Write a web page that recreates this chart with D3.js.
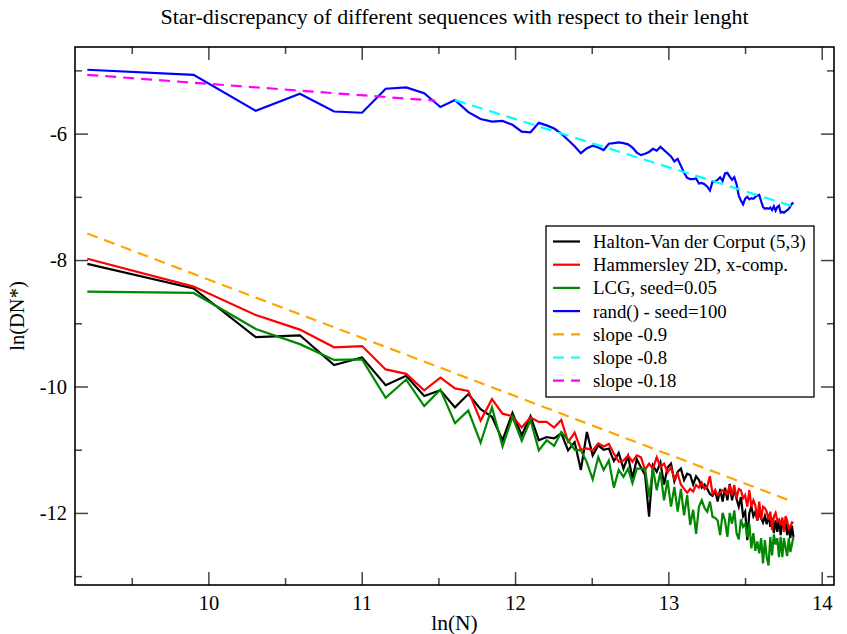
<!DOCTYPE html>
<html>
<head>
<meta charset="utf-8">
<script src="https://cdn.jsdelivr.net/npm/d3@7"></script>
<style>
  body { margin: 0; background: #fff; }
  svg { display: block; }
</style>
</head>
<body>
<div class="chart"></div>
<script>
// N = 10000 * k, k = 1..100
const kSteps = [1,2,3,4,5,6,7,8,9,10,11,12,13,14,15,16,17,18,19,20,21,22,23,24,25,26,27,28,29,30,
  31,32,33,34,35,36,37,38,39,40,41,42,43,44,45,46,47,48,49,50,51,52,53,54,55,56,57,58,59,60,
  61,62,63,64,65,66,67,68,69,70,71,72,73,74,75,76,77,78,79,80,81,82,83,84,85,86,87,88,89,90,
  91,92,93,94,95,96,97,98,99,100]

const halton = [-8.06,-8.45,-9.22,-9.19,-9.66,-9.54,-9.98,-9.83,-10.15,-10.06,
  -10.33,-10.12,-10.36,-10.48,-10.85,-10.42,-10.77,-10.47,-10.85,-10.80,
  -10.82,-10.74,-11.01,-10.88,-11.32,-10.72,-11.09,-10.93,-11.00,-10.98,
  -11.18,-11.05,-11.30,-11.10,-11.45,-11.15,-11.28,-11.40,-12.06,-11.25,
  -11.35,-11.20,-11.55,-11.28,-11.22,-11.50,-11.35,-11.30,-11.48,-11.38,
  -11.40,-11.55,-11.42,-11.48,-11.60,-11.55,-11.62,-11.70,-11.73,-11.65,
  -11.82,-11.62,-11.82,-11.60,-11.80,-11.54,-11.80,-11.62,-11.78,-11.90,
  -11.75,-12.05,-11.98,-12.43,-12.00,-11.90,-12.05,-11.98,-12.12,-12.00,
  -12.08,-12.15,-12.05,-12.18,-12.02,-12.22,-12.08,-12.32,-12.12,-12.30,
  -12.10,-12.35,-12.12,-12.25,-12.15,-12.35,-12.20,-12.40,-12.20,-12.38]

const hammersley = [-7.98,-8.42,-8.87,-9.10,-9.38,-9.36,-9.73,-9.80,-10.06,-9.86,
  -10.03,-10.07,-10.54,-10.20,-10.43,-10.47,-10.65,-10.49,-10.56,-10.56,
  -10.65,-10.53,-10.88,-10.73,-11.00,-10.98,-11.01,-10.90,-10.95,-10.91,
  -11.06,-11.19,-11.17,-11.09,-11.19,-11.09,-11.12,-11.32,-11.22,-11.30,
  -11.12,-11.27,-11.22,-11.36,-11.28,-11.46,-11.38,-11.55,-11.62,-11.68,
  -11.62,-11.66,-11.56,-11.60,-11.52,-11.62,-11.58,-11.42,-11.70,-11.64,
  -11.72,-11.68,-11.64,-11.67,-11.70,-11.56,-11.72,-11.56,-11.77,-11.62,
  -11.64,-11.77,-11.72,-11.90,-11.64,-11.90,-11.80,-11.88,-12.11,-11.82,
  -12.11,-11.90,-11.92,-11.98,-12.11,-11.98,-12.27,-12.06,-12.00,-12.12,
  -12.10,-12.20,-12.07,-12.30,-12.05,-12.12,-12.25,-12.22,-12.15,-12.16]

const lcg = [-8.50,-8.52,-9.09,-9.33,-9.58,-9.57,-10.18,-9.89,-10.31,-10.05,
  -10.58,-10.38,-10.89,-10.33,-10.95,-10.48,-10.86,-10.53,-11.01,-10.85,
  -10.94,-10.72,-10.85,-11.00,-11.01,-11.20,-11.47,-11.12,-11.32,-11.17,
  -11.60,-11.32,-11.43,-11.30,-11.53,-11.30,-11.30,-11.30,-11.75,-11.30,
  -11.64,-11.35,-11.80,-11.48,-11.90,-11.59,-11.98,-11.62,-12.04,-11.72,
  -12.19,-11.95,-12.33,-11.90,-11.80,-11.92,-11.98,-11.82,-12.06,-12.08,
  -12.12,-12.35,-12.00,-12.12,-12.38,-12.00,-12.17,-11.96,-12.32,-12.42,
  -12.10,-12.22,-12.17,-12.38,-12.17,-12.56,-12.32,-12.60,-12.45,-12.64,
  -12.40,-12.80,-12.43,-12.70,-12.83,-12.38,-12.67,-12.34,-12.50,-12.40,
  -12.70,-12.38,-12.70,-12.40,-12.55,-12.68,-12.40,-12.62,-12.50,-12.38]

const randSeed100 = [-4.99,-5.07,-5.64,-5.37,-5.65,-5.67,-5.29,-5.27,-5.36,-5.58,
  -5.47,-5.66,-5.77,-5.81,-5.80,-5.86,-5.97,-5.98,-5.83,-5.87,
  -5.92,-6.00,-6.10,-6.20,-6.31,-6.23,-6.19,-6.22,-6.26,-6.16,
  -6.15,-6.14,-6.15,-6.17,-6.22,-6.30,-6.34,-6.32,-6.29,-6.24,
  -6.27,-6.21,-6.26,-6.31,-6.36,-6.44,-6.40,-6.51,-6.62,-6.70,
  -6.72,-6.72,-6.71,-6.79,-6.78,-6.80,-6.84,-6.90,-6.76,-6.76,
  -6.73,-6.69,-6.75,-6.63,-6.62,-6.68,-6.73,-6.69,-6.80,-6.98,
  -7.06,-7.12,-7.03,-7.00,-7.04,-7.02,-7.03,-7.00,-6.98,-6.97,
  -7.07,-7.16,-7.19,-7.18,-7.19,-7.17,-7.21,-7.15,-7.22,-7.16,
  -7.14,-7.25,-7.24,-7.25,-7.23,-7.21,-7.19,-7.15,-7.11,-7.09]

// fitted slopes, as end points [ln(N), ln(DN*)]
const slope09 = [[9.21, -7.58], [13.82, -11.83]]
const slope08 = [[11.608, -5.47], [13.80, -7.14]]
const slope018 = [[9.21, -5.07], [11.48, -5.48]]

const legendLabels = ['Halton-Van der Corput (5,3)', 'Hammersley 2D, x-comp.', 'LCG, seed=0.05',
  'rand() - seed=100', 'slope -0.9', 'slope -0.8', 'slope -0.18']
const xTicks = [10, 11, 12, 13, 14]
const yTicks = [-12, -10, -8, -6]

const FONT = '"Liberation Serif", "Times New Roman", serif'

function drawChart() {
    let width = 847, height = 634
    let margin = {left: 75, right: 13, top: 47, bottom: 49}

    let x = d3.scaleLinear().domain([9.13, 14.08]).range([margin.left, width - margin.right])
    let y = d3.scaleLinear().domain([-13.14, -4.63]).range([height - margin.bottom, margin.top])

    let svg = d3.select('.chart').append('svg')
        .attr('width', width)
        .attr('height', height)

    svg.append('clipPath').attr('id', 'plot')
        .append('rect')
        .attr('x', margin.left).attr('y', margin.top)
        .attr('width', width - margin.left - margin.right)
        .attr('height', height - margin.top - margin.bottom)

    const xs = kSteps.map(k => Math.log(10000 * k))
    let series = [
        {name: legendLabels[0], color: '#000000', vals: halton},
        {name: legendLabels[1], color: '#ff0000', vals: hammersley},
        {name: legendLabels[2], color: '#008800', vals: lcg},
        {name: legendLabels[3], color: '#0000ff', vals: randSeed100}
    ]
    let fits = [
        {name: legendLabels[4], color: '#ffa500', pts: slope09},
        {name: legendLabels[5], color: '#00ffff', pts: slope08},
        {name: legendLabels[6], color: '#ff00ff', pts: slope018}
    ]

    let line = d3.line().x(d => x(d[0])).y(d => y(d[1]))

    let plot = svg.append('g').attr('clip-path', 'url(#plot)')

    plot.append('path')
        .attr('d', line(fits[0].pts))
        .attr('fill', 'none').attr('stroke', fits[0].color)
        .attr('stroke-width', 2.2).attr('stroke-dasharray', '11,7')

    plot.selectAll('path.series')
        .data(series)
        .join('path')
        .attr('class', 'series')
        .attr('fill', 'none')
        .attr('stroke', d => d.color)
        .attr('stroke-width', 2.2)
        .attr('d', d => line(d.vals.map((v, i) => [xs[i], v])))

    plot.selectAll('path.fit')
        .data(fits.slice(1))
        .join('path')
        .attr('class', 'fit')
        .attr('fill', 'none')
        .attr('stroke', d => d.color)
        .attr('stroke-width', 2.2)
        .attr('stroke-dasharray', '11,7')
        .attr('d', d => line(d.pts))

    // axes, ticks point inside the frame
    let bottom = height - margin.bottom, right = width - margin.right
    let xMinor = d3.range(9.5, 14.01, 1)
    let yMinor = [-13, -11, -9, -7, -5]

    svg.append('g').attr('transform', `translate(0,${bottom})`)
        .call(d3.axisBottom(x).tickValues(xTicks).tickSize(-13).tickPadding(10).tickFormat(d3.format('d')))
    svg.append('g').attr('transform', `translate(0,${bottom})`)
        .call(d3.axisBottom(x).tickValues(xMinor).tickSize(-7).tickFormat(''))
    svg.append('g').attr('transform', `translate(0,${margin.top})`)
        .call(d3.axisTop(x).tickValues(xTicks).tickSize(-13).tickFormat(''))
    svg.append('g').attr('transform', `translate(0,${margin.top})`)
        .call(d3.axisTop(x).tickValues(xMinor).tickSize(-7).tickFormat(''))
    svg.append('g').attr('transform', `translate(${margin.left},0)`)
        .call(d3.axisLeft(y).tickValues(yTicks).tickSize(-13).tickPadding(8).tickFormat(d => String(d)))
    svg.append('g').attr('transform', `translate(${margin.left},0)`)
        .call(d3.axisLeft(y).tickValues(yMinor).tickSize(-7).tickFormat(''))
    svg.append('g').attr('transform', `translate(${right},0)`)
        .call(d3.axisRight(y).tickValues(yTicks).tickSize(-13).tickFormat(''))
    svg.append('g').attr('transform', `translate(${right},0)`)
        .call(d3.axisRight(y).tickValues(yMinor).tickSize(-7).tickFormat(''))

    svg.selectAll('.domain').remove()
    svg.selectAll('.tick line').attr('stroke', '#444').attr('stroke-width', 1.5)
    svg.selectAll('.tick text')
        .style('font-family', FONT)
        .style('font-size', '20.5px')
        .attr('fill', '#000')

    svg.append('rect')
        .attr('x', margin.left).attr('y', margin.top)
        .attr('width', right - margin.left).attr('height', bottom - margin.top)
        .attr('fill', 'none').attr('stroke', '#000').attr('stroke-width', 1.6)

    // titles
    svg.append('text')
        .attr('x', (margin.left + right) / 2).attr('y', 24)
        .attr('text-anchor', 'middle')
        .style('font-family', FONT).style('font-size', '22px')
        .text('Star-discrepancy of different sequences with respect to their lenght')
    svg.append('text')
        .attr('x', (margin.left + right) / 2).attr('y', 630)
        .attr('text-anchor', 'middle')
        .style('font-family', FONT).style('font-size', '21.5px')
        .text('ln(N)')
    svg.append('text')
        .attr('transform', `translate(24,${(margin.top + bottom) / 2}) rotate(-90)`)
        .attr('text-anchor', 'middle')
        .style('font-family', FONT).style('font-size', '20.5px')
        .text('ln(DN*)')

    // legend
    let leg = svg.append('g').attr('transform', 'translate(546,226)')
    leg.append('rect')
        .attr('width', 268).attr('height', 171)
        .attr('fill', '#fff').attr('stroke', '#000').attr('stroke-width', 1.3)
    let items = series.map(d => ({name: d.name, color: d.color, dash: null}))
        .concat(fits.map(d => ({name: d.name, color: d.color, dash: '11,7'})))
    let row = leg.selectAll('g.item')
        .data(items)
        .join('g')
        .attr('class', 'item')
        .attr('transform', (d, i) => `translate(0,${15.5 + i * 23.2})`)
    row.append('line')
        .attr('x1', 7).attr('x2', 34)
        .attr('stroke', d => d.color).attr('stroke-width', 2.2)
        .attr('stroke-dasharray', d => d.dash)
    row.append('text')
        .attr('x', 47)
        .attr('dy', '0.34em')
        .style('font-family', FONT).style('font-size', '18.8px')
        .text(d => d.name)
}

drawChart()
</script>
</body>
</html>
